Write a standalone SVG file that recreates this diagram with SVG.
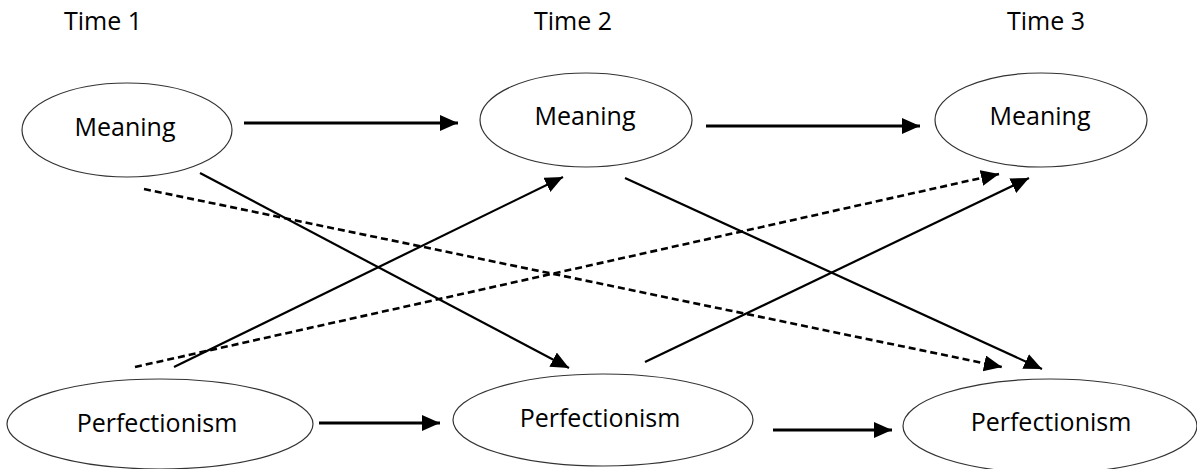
<svg xmlns="http://www.w3.org/2000/svg" width="1197" height="469" viewBox="0 0 1197 469">
<style>
  .node ellipse { fill: #fff; stroke: #333; stroke-width: 1.2; }
  .lbl { font-family: "Open Sans", "Liberation Sans", sans-serif; font-size: 25px; fill: #000; text-anchor: middle; }
  .solid { stroke: #000; stroke-width: 2.2; fill: none; marker-end: url(#ah); }
  .thick { stroke: #000; stroke-width: 3; fill: none; marker-end: url(#ah); }
  .dash { stroke: #000; stroke-width: 2.6; fill: none; stroke-dasharray: 7 4; marker-end: url(#ah); }
</style>
<defs>
  <marker id="ah" markerUnits="userSpaceOnUse" markerWidth="20" markerHeight="18" refX="18" refY="8" orient="auto">
    <path d="M0,0 L18,8 L0,16 z" fill="#000"/>
  </marker>
</defs>
<rect width="1197" height="469" fill="#fff"/>
<g id="time-labels">
  <text class="lbl" x="103" y="30">Time 1</text>
  <text class="lbl" x="573" y="30">Time 2</text>
  <text class="lbl" x="1046" y="30">Time 3</text>
</g>
<g id="connectors">
  <line class="thick" x1="244" y1="123" x2="458" y2="123"/>
  <line class="thick" x1="706" y1="126" x2="920" y2="126"/>
  <line class="thick" x1="319" y1="423" x2="440" y2="423"/>
  <line class="thick" x1="773" y1="430" x2="892" y2="430"/>
  <line class="solid" x1="200" y1="173" x2="569" y2="368"/>
  <line class="solid" x1="174" y1="367" x2="563" y2="177"/>
  <line class="solid" x1="625" y1="178" x2="1042" y2="369"/>
  <line class="solid" x1="645" y1="362" x2="1029" y2="178"/>
  <line class="dash" x1="144" y1="189" x2="1002" y2="367"/>
  <line class="dash" x1="135" y1="367" x2="999" y2="174"/>
</g>
<g id="meaning-t1" class="node">
  <ellipse cx="127" cy="130" rx="105" ry="47"/>
  <text class="lbl" x="125" y="136">Meaning</text>
</g>
<g id="meaning-t2" class="node">
  <ellipse cx="586" cy="120" rx="106" ry="47"/>
  <text class="lbl" x="585" y="125">Meaning</text>
</g>
<g id="meaning-t3" class="node">
  <ellipse cx="1041" cy="120" rx="106" ry="47"/>
  <text class="lbl" x="1040" y="125">Meaning</text>
</g>
<g id="perfectionism-t1" class="node">
  <ellipse cx="160" cy="424" rx="153" ry="45"/>
  <text class="lbl" x="157" y="432">Perfectionism</text>
</g>
<g id="perfectionism-t2" class="node">
  <ellipse cx="603" cy="420" rx="150" ry="46"/>
  <text class="lbl" x="600" y="427">Perfectionism</text>
</g>
<g id="perfectionism-t3" class="node">
  <ellipse cx="1050" cy="426" rx="147" ry="47"/>
  <text class="lbl" x="1051" y="431">Perfectionism</text>
</g>
</svg>
